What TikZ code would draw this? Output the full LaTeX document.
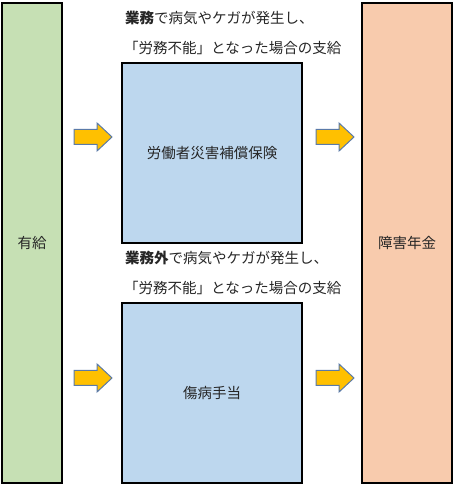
\documentclass[tikz,border=0pt]{standalone}
\usepackage{fontspec}
\setmainfont{Noto Sans CJK JP}
\newfontfamily\jp{Noto Sans CJK JP}
\definecolor{boxgreen}{HTML}{C6E0B4}
\definecolor{boxblue}{HTML}{BDD7EE}
\definecolor{boxpeach}{HTML}{F8CBAD}
\definecolor{arrowfill}{HTML}{FFC000}
\definecolor{arrowline}{HTML}{5A7AA8}
\definecolor{txt}{HTML}{262626}
\begin{document}
\begin{tikzpicture}[x=1pt,y=1pt,
  panel/.style={draw=black,line width=1.3pt},
  lbl/.style={font=\jp\fontsize{14.5}{17}\selectfont,text=txt},
  note/.style={font=\jp\fontsize{14.5}{17}\selectfont,text=txt,anchor=west,inner sep=0pt},
  fatarrow/.style={fill=arrowfill,draw=arrowline,line width=1pt,line join=miter}]
\useasboundingbox (0,0) rectangle (456,488);
% panels
\path[panel,fill=boxgreen] (2,5) rectangle (62,485);
\path[panel,fill=boxpeach] (362,5) rectangle (452,485);
\path[panel,fill=boxblue] (122,245) rectangle (302,425);
\path[panel,fill=boxblue] (122,5) rectangle (302,185);
% labels
\node[lbl] (yukyu) at (32,245) {有給};
\node[lbl] (shogai) at (407,245) {障害年金};
\node[lbl] (rosai) at (212,335) {労働者災害補償保険};
\node[lbl] (shobyo) at (212,95) {傷病手当};
% notes
\node[note] (n1) at (125,470) {\textbf{業務}で病気やケガが発生し、};
\node[note] (n2) at (124,440) {「労務不能」となった場合の支給};
\node[note] (n3) at (125,230) {\textbf{業務外}で病気やケガが発生し、};
\node[note] (n4) at (124,200) {「労務不能」となった場合の支給};
% arrows
\foreach \ax/\ay in {74/351, 316/351, 74/110, 316/110}{
  \draw[fatarrow] (\ax,\ay-7.5) -- ++(23,0) -- ++(0,-6.5) -- ++(15,14) -- ++(-15,14) -- ++(0,-6.5) -- ++(-23,0) -- cycle;
}
\end{tikzpicture}
\end{document}
